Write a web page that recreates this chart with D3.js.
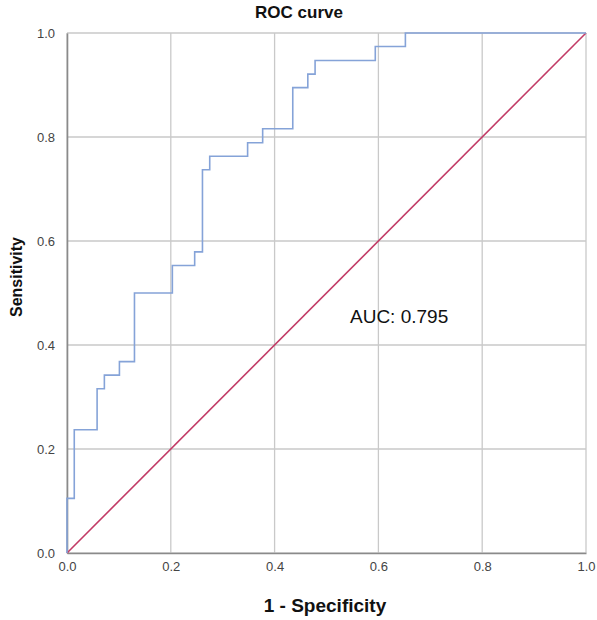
<!DOCTYPE html>
<html>
<head>
<meta charset="utf-8">
<script src="https://cdn.jsdelivr.net/npm/d3@7"></script>
<style>
  html, body { margin: 0; padding: 0; background: #fff; }
  svg { display: block; font-family: "Liberation Sans", Arial, sans-serif; }
</style>
</head>
<body>
<svg id="chart" width="597" height="620"></svg>
<script>
// ROC curve step points (1 - specificity, sensitivity)
const fpr  = [0.000, 0.000, 0.014, 0.014, 0.058, 0.058, 0.072, 0.072, 0.101, 0.101, 0.130, 0.130, 0.203, 0.203, 0.246, 0.246, 0.261, 0.261, 0.275, 0.275, 0.348, 0.348, 0.377, 0.377, 0.435, 0.435, 0.464, 0.464, 0.478, 0.478, 0.594, 0.594, 0.652, 0.652, 1.000];
const sens = [0.000, 0.105, 0.105, 0.237, 0.237, 0.316, 0.316, 0.342, 0.342, 0.368, 0.368, 0.500, 0.500, 0.553, 0.553, 0.579, 0.579, 0.737, 0.737, 0.763, 0.763, 0.789, 0.789, 0.816, 0.816, 0.895, 0.895, 0.921, 0.921, 0.947, 0.947, 0.974, 0.974, 1.000, 1.000];
const refX = [0, 1];
const refY = [0, 1];
const tickValues = [0.0, 0.2, 0.4, 0.6, 0.8, 1.0];
const tickLabels = ["0.0", "0.2", "0.4", "0.6", "0.8", "1.0"];
const titleText = "ROC curve";
const xTitle = "1 - Specificity";
const yTitle = "Sensitivity";
const aucText = "AUC: 0.795";

(function () {
const svg = d3.select("#chart");
const pL = 67, pR = 586, pT = 33, pB = 553;
const x = d3.scaleLinear().domain([0, 1]).range([pL, pR]);
const y = d3.scaleLinear().domain([0, 1]).range([pB, pT]);

// grid
const grid = svg.append("g");
tickValues.forEach(v => {
  grid.append("line").attr("x1", x(v)).attr("x2", x(v)).attr("y1", pT).attr("y2", pB)
    .attr("stroke", "#c9c9c9").attr("stroke-width", 1.3);
  grid.append("line").attr("x1", pL).attr("x2", pR).attr("y1", y(v)).attr("y2", y(v))
    .attr("stroke", "#c9c9c9").attr("stroke-width", 1.3);
});

// axes
const xAxis = d3.axisBottom(x).tickValues(tickValues).tickFormat((d, i) => tickLabels[i]).tickSize(0).tickPadding(9);
const yAxis = d3.axisLeft(y).tickValues(tickValues).tickFormat((d, i) => tickLabels[i]).tickSize(0).tickPadding(12);
const gx = svg.append("g").attr("transform", `translate(0,${pB})`).call(xAxis);
const gy = svg.append("g").attr("transform", `translate(${pL},0)`).call(yAxis);
[gx, gy].forEach(g => {
  g.select(".domain").attr("stroke", "#8a8a8a").attr("stroke-width", 1.6);
  g.selectAll("text").attr("fill", "#444").style("font-size", "13px").style("font-family", "'Liberation Sans', Arial, sans-serif");
});

// reference line
svg.append("path")
  .datum(refX.map((d, i) => [d, refY[i]]))
  .attr("d", d3.line().x(d => x(d[0])).y(d => y(d[1])))
  .attr("fill", "none").attr("stroke", "#c23b66").attr("stroke-width", 1.6);

// ROC curve
svg.append("path")
  .datum(fpr.map((d, i) => [d, sens[i]]))
  .attr("d", d3.line().x(d => x(d[0])).y(d => y(d[1])))
  .attr("fill", "none").attr("stroke", "#85a3d8").attr("stroke-width", 1.6);

// texts
svg.append("text").attr("x", 299).attr("y", 18).attr("text-anchor", "middle")
  .style("font-size", "17px").style("font-weight", "bold").attr("fill", "#111").text(titleText);
svg.append("text").attr("x", 325).attr("y", 612).attr("text-anchor", "middle")
  .style("font-size", "19px").style("font-weight", "bold").attr("fill", "#111").text(xTitle);
svg.append("text").attr("transform", "translate(22,277) rotate(-90)").attr("text-anchor", "middle")
  .style("font-size", "16px").style("font-weight", "bold").attr("fill", "#111").text(yTitle);
svg.append("text").attr("x", 350).attr("y", 323).attr("text-anchor", "start")
  .style("font-size", "19px").attr("fill", "#111").text(aucText);
})();
</script>
</body>
</html>
